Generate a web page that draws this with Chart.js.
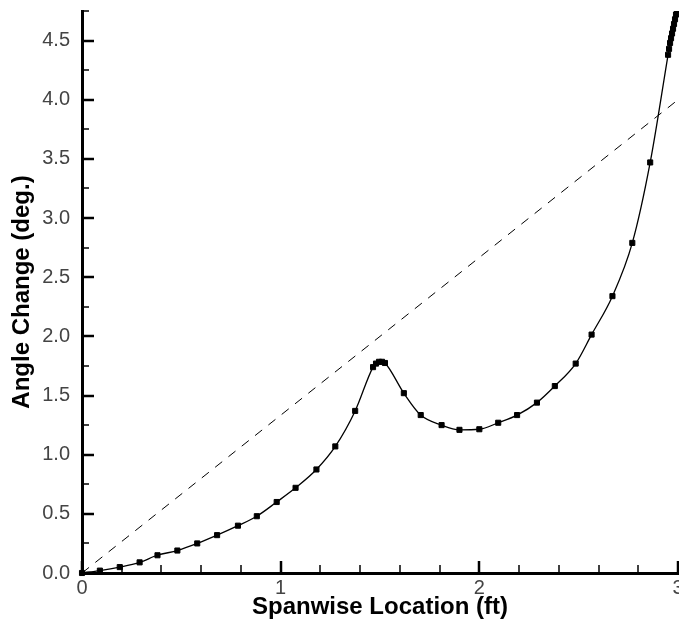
<!DOCTYPE html>
<html>
<head>
<meta charset="utf-8">
<script src="https://cdn.jsdelivr.net/npm/chart.js@4.4.1/dist/chart.umd.min.js"></script>
<style>
  html, body { margin: 0; padding: 0; background: #fff; }
  #wrap { width: 679px; height: 628px; position: relative; }
</style>
</head>
<body>
<div id="wrap"><canvas id="chart"></canvas></div>
<script>
// spanwise location (ft) and angle change (deg.)
const spanX = [0, 0.09, 0.19, 0.29, 0.38, 0.48, 0.58, 0.68, 0.785, 0.88, 0.98, 1.075, 1.18, 1.275, 1.375,
  1.465, 1.48, 1.495, 1.51, 1.525, 1.62, 1.705, 1.81, 1.9, 2.0, 2.095, 2.19, 2.29, 2.38, 2.485, 2.565,
  2.67, 2.77, 2.86, 2.95, 2.955, 2.96, 2.965, 2.97, 2.975, 2.98, 2.985, 2.99, 2.995, 3.0];
const angle = [0, 0.02, 0.05, 0.09, 0.15, 0.19, 0.25, 0.32, 0.40, 0.48, 0.60, 0.72, 0.875, 1.07, 1.37,
  1.74, 1.77, 1.785, 1.785, 1.775, 1.52, 1.335, 1.25, 1.21, 1.215, 1.27, 1.335, 1.44, 1.58, 1.77, 2.015,
  2.34, 2.79, 3.47, 4.38, 4.43, 4.48, 4.52, 4.56, 4.6, 4.64, 4.68, 4.72, 4.76, 4.8];

// dashed reference line
const refX = [0, 3];
const refY = [0, 4];

const xTicks = [0, 1, 2, 3];
const yTicks = [0, 0.5, 1.0, 1.5, 2.0, 2.5, 3.0, 3.5, 4.0, 4.5];

const toPts = (xs, ys) => xs.map((x, i) => ({ x: x, y: ys[i] }));

// let the plot run right up to the canvas edge (the "3" label gets cut, as in the original)
const stretchRight = {
  id: 'stretchRight',
  afterLayout(chart) {
    const x = chart.scales.x;
    const right = chart.width - 1;
    chart.chartArea.right = right;
    chart.chartArea.width = right - chart.chartArea.left;
    x.right = right;
    x.width = right - x.left;
    x.configure();
  }
};

// inward major/minor tick marks like the original plot
const innerTicks = {
  id: 'innerTicks',
  afterDraw(chart) {
    const ctx = chart.ctx;
    const xs = chart.scales.x, ys = chart.scales.y;
    const a = chart.chartArea;
    ctx.save();
    ctx.strokeStyle = '#000';
    for (let i = 0; i <= 15; i++) {
      const px = Math.round(xs.getPixelForValue(i * 0.2));
      const major = i % 5 === 0;
      ctx.lineWidth = major ? 2.5 : 1.5;
      ctx.beginPath();
      ctx.moveTo(px, a.bottom);
      ctx.lineTo(px, a.bottom - (major ? 12 : 8));
      ctx.stroke();
    }
    for (let i = 0; i <= 19; i++) {
      const py = Math.round(ys.getPixelForValue(i * 0.25));
      const major = i % 2 === 0;
      ctx.lineWidth = major ? 2.5 : 1.5;
      ctx.beginPath();
      ctx.moveTo(a.left, py);
      ctx.lineTo(a.left + (major ? 12 : 7), py);
      ctx.stroke();
    }
    ctx.restore();
  }
};

const ctx = document.getElementById('chart').getContext('2d');
new Chart(ctx, {
  type: 'scatter',
  data: {
    datasets: [
      {
        data: toPts(refX, refY),
        showLine: true,
        borderColor: '#000',
        borderWidth: 1,
        borderDash: [9, 8],
        pointRadius: 0,
        clip: 0
      },
      {
        data: toPts(spanX, angle),
        showLine: true,
        borderColor: '#000',
        borderWidth: 1.3,
        cubicInterpolationMode: 'monotone',
        pointStyle: 'rect',
        pointRadius: 3.6,
        pointBackgroundColor: '#000',
        pointBorderColor: '#000',
        pointBorderWidth: 1,
        clip: { left: 6, bottom: 6, top: 0, right: 1 }
      }
    ]
  },
  options: {
    responsive: true,
    maintainAspectRatio: false,
    animation: false,
    layout: { padding: { top: 11, right: 1, left: 0, bottom: 0 } },
    plugins: { legend: { display: false }, tooltip: { enabled: false } },
    scales: {
      x: {
        type: 'linear',
        min: 0,
        max: 3,
        afterFit: s => { s.height = 55; s.paddingLeft = 0; s.paddingRight = 0; },
        afterBuildTicks: s => { s.ticks = xTicks.map(v => ({ value: v })); },
        grid: { display: false, drawTicks: false },
        border: { display: true, color: '#000', width: 3 },
        ticks: {
          padding: 3,
          color: '#444',
          font: { family: 'Liberation Sans', size: 20 },
          callback: v => String(v)
        },
        title: {
          display: true,
          text: 'Spanwise Location (ft)',
          color: '#000',
          font: { family: 'Liberation Sans', size: 24, weight: 'bold' },
          padding: { top: 0, bottom: 6 }
        }
      },
      y: {
        type: 'linear',
        min: 0,
        max: 4.75,
        afterFit: s => { s.width = 82; s.paddingTop = 0; s.paddingBottom = 0; },
        afterBuildTicks: s => { s.ticks = yTicks.map(v => ({ value: v })); },
        grid: { display: false, drawTicks: false },
        border: { display: true, color: '#000', width: 3 },
        ticks: {
          padding: 12,
          color: '#444',
          font: { family: 'Liberation Sans', size: 20 },
          callback: v => Number(v).toFixed(1)
        },
        title: {
          display: true,
          text: 'Angle Change (deg.)',
          color: '#000',
          font: { family: 'Liberation Sans', size: 24, weight: 'bold' },
          padding: { top: 8, bottom: 0 }
        }
      }
    }
  },
  plugins: [stretchRight, innerTicks]
});
</script>
</body>
</html>
